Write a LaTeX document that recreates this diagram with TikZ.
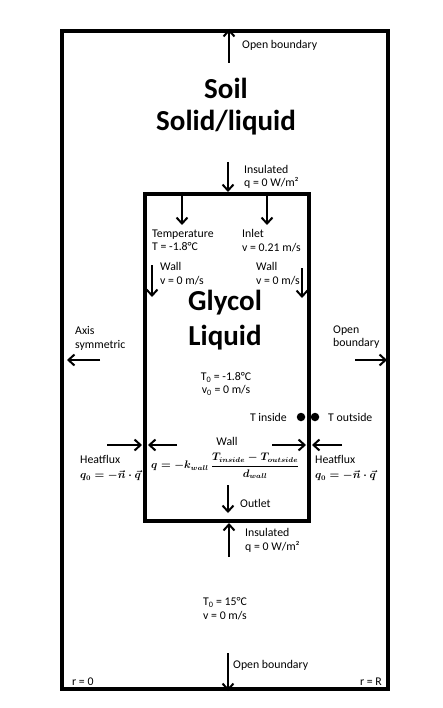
\documentclass[tikz,border=0pt]{standalone}
\usepackage{amsmath}
\usepackage{fontspec}
\setmainfont{Carlito}
\usetikzlibrary{arrows.meta}
\begin{document}
\begin{tikzpicture}[x=1pt,y=-1pt,
  lbl/.style={font=\fontsize{11.8}{13.5}\selectfont, inner sep=0pt, align=left},
  big/.style={font=\fontsize{29}{31}\selectfont\bfseries, inner sep=0pt},
  arr/.style={line width=2.2pt, -{Straight Barb[length=6pt,width=11pt,line width=2pt]}},
  box/.style={draw, line width=4pt, inner sep=0pt},
  dot/.style={circle, fill, inner sep=0pt, minimum size=8.5pt}]
\useasboundingbox (0,0) rectangle (443,708);
% boxes
\node[box, minimum width=326pt, minimum height=658pt] (outer) at (225,360) {};
\node[box, minimum width=164pt, minimum height=327pt] (inner) at (227,357.5) {};
% top
\coordinate (topA) at (229,63);
\draw[arr] (topA) -- (topA |- outer.north);
\node[lbl, anchor=west] (openTop) at (242,45) {Open boundary};
\node[big] (soil) at (226,88) {Soil};
\node[big] (solid) at (226,123) {Solid/liquid};
\coordinate (insA) at (228,162);
\draw[arr] (insA) -- (insA |- inner.north);
\node[lbl, anchor=west] (insTop) at (244,177) {Insulated\\q = 0 W/m²};
% inner top arrows
\coordinate (tempA) at (182,225);
\draw[arr] (tempA |- inner.north) -- (tempA);
\coordinate (inletA) at (267,225);
\draw[arr] (inletA |- inner.north) -- (inletA);
\node[lbl, anchor=west] (temp) at (152,240.5) {Temperature\\T = -1.8°C};
\node[lbl, anchor=west] (inlet) at (242,240.5) {Inlet\\v = 0.21 m/s};
% wall arrows
\coordinate (wlS) at (152,265); \coordinate (wlE) at (152,297);
\draw[arr] (wlS) -- (wlE);
\coordinate (wrS) at (302,268); \coordinate (wrE) at (302,298);
\draw[arr] (wrS) -- (wrE);
\node[lbl, anchor=west] (wallL) at (160,273.5) {Wall\\v = 0 m/s};
\node[lbl, anchor=west] (wallR) at (256,273.5) {Wall\\v = 0 m/s};
\node[big] (glycol) at (225,303) {Glycol};
\node[big] (liquid) at (225,338) {Liquid};
% side arrows
\coordinate (axS) at (100,360); \coordinate (axE) at (67,360);
\draw[arr] (axS) -- (axE);
\node[lbl, anchor=west] (axis) at (75,338.5) {Axis\\symmetric};
\coordinate (obS) at (355,360); \coordinate (obE) at (387,360);
\draw[arr] (obS) -- (obE);
\node[lbl, anchor=west] (openR) at (333,337) {Open\\boundary};
\node[lbl, align=center] (init) at (226,384) {T\textsubscript{0} = -1.8°C\\v\textsubscript{0} = 0 m/s};
% temperature points
\node[dot] (dIn) at (301,417) {};
\node[dot] (dOut) at (315,417) {};
\node[lbl, anchor=east] (tin) at (287,417) {T inside};
\node[lbl, anchor=west] (tout) at (328,417) {T outside};
% heat flux arrows
\coordinate (h1S) at (107,445); \coordinate (h1E) at (142,445);
\draw[arr] (h1S) -- (h1E);
\coordinate (h2S) at (177,445); \coordinate (h2E) at (148,445);
\draw[arr] (h2S) -- (h2E);
\coordinate (h3S) at (272,445); \coordinate (h3E) at (306,445);
\draw[arr] (h3S) -- (h3E);
\coordinate (h4S) at (342,445); \coordinate (h4E) at (312,445);
\draw[arr] (h4S) -- (h4E);
\node[lbl] (wallLbl) at (227,441) {Wall};
\node[lbl, anchor=west, font=\fontsize{10.6}{12}\selectfont\boldmath] (formula) at (151,466)
  {$q=-k_{wall}\,\dfrac{T_{inside}-T_{outside}}{d_{wall}}$};
\node[lbl, anchor=west] (hfL) at (80,468)
  {Heatflux\\[1.5pt]{\fontsize{10.6}{12}\selectfont\boldmath$q_0=-\vec{n}\cdot\vec{q}$}};
\node[lbl, anchor=west] (hfR) at (315,468)
  {Heatflux\\[1.5pt]{\fontsize{10.6}{12}\selectfont\boldmath$q_0=-\vec{n}\cdot\vec{q}$}};
% outlet
\coordinate (outS) at (228,485); \coordinate (outE) at (228,513);
\draw[arr] (outS) -- (outE);
\node[lbl, anchor=west] (outlet) at (240,503) {Outlet};
% bottom
\coordinate (insB) at (229,557);
\draw[arr] (insB) -- (insB |- inner.south);
\node[lbl, anchor=west] (insBot) at (245,540.5) {Insulated\\q = 0 W/m²};
\node[lbl, align=center] (soilInit) at (225,608.5) {T\textsubscript{0} = 15°C\\v = 0 m/s};
\coordinate (botA) at (228,653);
\draw[arr] (botA) -- (botA |- outer.south);
\node[lbl, anchor=west] (openBot) at (233,665) {Open boundary};
\node[lbl, anchor=west] (r0) at (72,682) {r = 0};
\node[lbl, anchor=east] (rR) at (382,682) {r = R};
\end{tikzpicture}
\end{document}
